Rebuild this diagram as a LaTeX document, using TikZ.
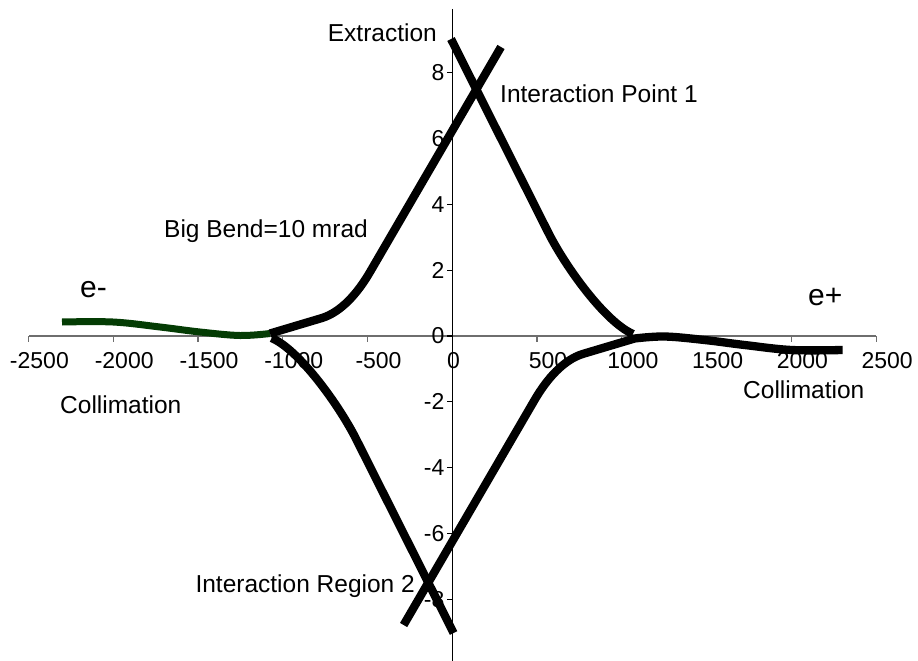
\documentclass[tikz,border=0pt]{standalone}
\usepackage{fontspec}
\setmainfont{Liberation Sans}
\definecolor{beamgreen}{RGB}{4,60,4}
\definecolor{axisgray}{RGB}{110,110,110}
\begin{document}
\begin{tikzpicture}[x=1pt,y=-1pt,
  beam/.style={line width=8.3pt},
  greenbeam/.style={line width=7pt, beamgreen},
  lbl/.style={font=\fontsize{24.5}{28}\selectfont, inner sep=0pt},
  num/.style={font=\fontsize{23}{27}\selectfont, inner sep=0pt},
  eplbl/.style={font=\fontsize{30}{34}\selectfont, inner sep=0pt}]
\useasboundingbox (0,0) rectangle (918,661);
% x axis
\draw[axisgray, line width=1.2pt] (29,336) coordinate (xa0) -- (876,336) coordinate (xa1);
\foreach \v in {-2500,-2000,...,2500}{
  \pgfmathsetmacro{\px}{452.3+0.16955*\v}
  \draw[axisgray, line width=1.2pt] (\px,336) -- (\px,341.5);
  \ifnum\v=0
    \node[num, anchor=base] (xl\v) at (453.5,368) {\v};
  \else
    \node[num, anchor=base] (xl\v) at (\px+11,368) {\v};
  \fi
}
% y axis
\draw[black, line width=1.2pt] (452.3,9) coordinate (ya0) -- (452.3,661) coordinate (ya1);
\foreach \v in {-8,-6,...,8}{
  \pgfmathsetmacro{\py}{336-32.9*\v}
  \draw[black, line width=1.2pt] (447,\py) -- (452.3,\py);
  \node[num, anchor=east] (yl\v) at (444.5,\py) {\v};
}
% labels
\node[lbl, anchor=base east] (extr) at (437,42) {Extraction};
\node[lbl, anchor=base west] (ip1) at (500,102) {Interaction Point 1};
\node[lbl, anchor=base east] (bend) at (368,237) {Big Bend=10 mrad};
\node[eplbl, anchor=base west] (em) at (80,297) {e-};
\node[eplbl, anchor=base west] (ep) at (808,305) {e+};
\node[lbl, anchor=base west] (colL) at (60,413) {Collimation};
\node[lbl, anchor=base west] (colR) at (743,398) {Collimation};
\node[lbl, anchor=base east] (ir2) at (415,592) {Interaction Region 2};
% upper half
\draw[greenbeam] plot[smooth, tension=0.6] coordinates {(62,322) (113,322) (160,327) (200,332) (240,335.5) (270,333.5)};
\draw[beam, black] (270,333.5) -- (322,318) .. controls (341,312) and (357.4,293.6) .. (370,272) -- (501,47);
\draw[beam, black] (451,39) -- (548,232) .. controls (565,266) and (605,322) .. (633,334);
% lower half (point-symmetric)
\begin{scope}[rotate around={180:(452.3,336)}]
\draw[beam, black] plot[smooth, tension=0.6] coordinates {(62,322) (113,322) (160,327) (200,332) (240,335.5) (270,333.5)}
  -- (322,318) .. controls (341,312) and (357.4,293.6) .. (370,272) -- (501,47);
\draw[beam, black] (451,39) -- (548,232) .. controls (565,266) and (605,322) .. (633,334);
\end{scope}
\end{tikzpicture}
\end{document}
